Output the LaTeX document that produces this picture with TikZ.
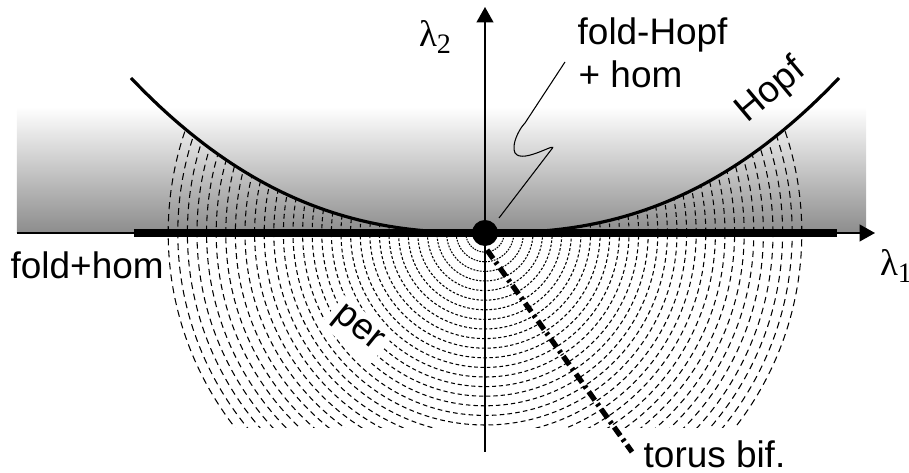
\documentclass[tikz,border=0pt]{standalone}
\usepackage{fontspec}
\setmainfont{Liberation Sans}
\newfontfamily\grkfont{Liberation Serif}
\usetikzlibrary{arrows.meta}

\begin{document}
\begin{tikzpicture}[x=0.01cm, y=0.01cm, >={Triangle[length=4.4pt,width=4.8pt]},
  lbl/.style={font=\fontsize{10.5}{12}\selectfont, inner sep=0pt},
  axisline/.style={line width=0.5pt},
  arcline/.style={line width=0.3pt},
  foldline/.style={line width=2.3pt},
  hopfline/.style={line width=0.9pt},
  torusline/.style={line width=1.5pt, dash pattern=on 3pt off 1.2pt on 0.8pt off 1.2pt}]
  \useasboundingbox (-485,-240) rectangle (424,233);
  \coordinate (O) at (0,0);

  %% gray shading above the lambda_1 axis
  \shade[top color=white, bottom color=black!45] (-468,0) rectangle (381,126);

  %% family of periodic orbits (dashed circles)
  \begin{scope}
    \clip plot[domain=-354:354, samples=100] (\x,{155*((abs(\x)+0.01)/354)^2.4})
      -- (354,-195) -- (-354,-195) -- cycle;
    \foreach \k in {1,...,33}{
      \pgfmathsetmacro\r{9.6*\k}
      \pgfmathsetmacro\dn{0.17*(2+0.031*\r)}
      \pgfmathsetmacro\df{0.12*(2+0.031*\r)}
      \draw[arcline, dash pattern=on \dn pt off \df pt] (O) circle[radius=\r];
    }
  \end{scope}

  %% Hopf curve
  \draw[hopfline] plot[domain=-354:354, samples=100] (\x,{155*((abs(\x)+0.01)/354)^2.4});

  %% axes
  \coordinate (xstart) at (-468,0);
  \coordinate (xend) at (390,0);
  \coordinate (ystart) at (0,-219);
  \coordinate (yend) at (0,226);
  \draw[axisline, ->] (xstart) -- (xend);
  \draw[axisline, ->] (ystart) -- (yend);

  %% fold+hom line
  \coordinate (foldl) at (-351,0);
  \coordinate (foldr) at (352,0);
  \draw[foldline] (foldl) -- (foldr);

  %% codim-2 point
  \node (dot) [circle, fill, inner sep=0pt, minimum size=0.26cm] at (O) {};

  %% torus bifurcation
  \coordinate (tbstart) at (2,-17);
  \coordinate (tbend) at (147,-219);
  \draw[torusline] (tbstart) -- (tbend);

  %% labels
  \node[lbl] (lamtwo) at (-50,196) {\grkfont λ\raisebox{-0.45ex}{\fontsize{8}{9}\selectfont 2}};
  \node[lbl] (lamone) at (411,-33) {\grkfont λ\raisebox{-0.45ex}{\fontsize{8}{9}\selectfont 1}};
  \node[lbl, anchor=base west] (fhopf) at (92,188) {fold-Hopf};
  \node[lbl, anchor=base west] (fhom) at (93,145) {+ hom};
  \node[lbl, rotate=40] (hopf) at (286,142) {Hopf};
  \node[lbl, anchor=base west] (foldhom) at (-475,-46) {fold+hom};
  \node[lbl, rotate=-39, fill=white, inner sep=1.5pt] (per) at (-128,-97) {per};
  \node[lbl, anchor=base west] (torus) at (158,-235) {torus bif.};

  %% pointer to the fold-Hopf point
  \coordinate (sqa) at (14,15);
  \coordinate (sqb) at (80,171);
  \draw[line width=0.3pt] (sqa) -- (66,83) .. controls (76,94) and (38,68) .. (30,80)
    .. controls (26,88) and (34,104) .. (40,110) -- (sqb);
\end{tikzpicture}
\end{document}
